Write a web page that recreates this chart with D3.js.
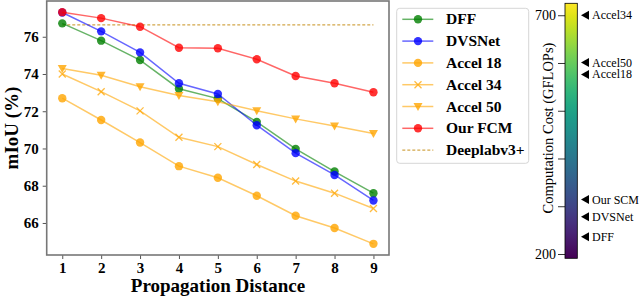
<!DOCTYPE html>
<html>
<head>
<meta charset="utf-8">
<script src="https://cdn.jsdelivr.net/npm/d3@7"></script>
<style>
  body { margin: 0; background: #fff; }
  svg { display: block; font-family: "Liberation Serif", "Times New Roman", serif; }
</style>
</head>
<body>
<svg></svg>
<script>
var WIDTH = 640;
var HEIGHT = 299;

// data
var distances = [1, 2, 3, 4, 5, 6, 7, 8, 9];
var dff     = [76.72, 75.79, 74.75, 73.21, 72.68, 71.43, 69.98, 68.76, 67.60];
var dvsnet  = [77.30, 76.29, 75.16, 73.50, 72.93, 71.25, 69.75, 68.58, 67.21];
var accel18 = [72.70, 71.53, 70.32, 69.05, 68.43, 67.46, 66.39, 65.73, 64.88];
var accel34 = [74.00, 73.05, 72.02, 70.60, 70.10, 69.14, 68.25, 67.60, 66.78];
var accel50 = [74.30, 73.93, 73.32, 72.84, 72.51, 72.03, 71.59, 71.21, 70.80];
var ourFcm  = [77.32, 77.00, 76.54, 75.41, 75.38, 74.79, 73.89, 73.50, 73.02];
var deeplab = 76.64;
var yTicks = [66, 68, 70, 72, 74, 76];

var costNames = ['Accel34', 'Accel50', 'Accel18', 'Our SCM', 'DVSNet', 'DFF'];
var costValues = [700, 601, 576, 314, 278, 236];
var costTicks = [200, 300, 400, 500, 600, 700];

var series = [
  {name: 'DFF', values: dff, color: '#008000', marker: 'circle'},
  {name: 'DVSNet', values: dvsnet, color: '#0000ff', marker: 'circle'},
  {name: 'Accel 18', values: accel18, color: '#ffa500', marker: 'circle'},
  {name: 'Accel 34', values: accel34, color: '#ffa500', marker: 'x'},
  {name: 'Accel 50', values: accel50, color: '#ffa500', marker: 'tri'},
  {name: 'Our FCM', values: ourFcm, color: '#ff0000', marker: 'circle'}
];

var svg = d3.select('svg')
  .attr('width', WIDTH)
  .attr('height', HEIGHT);

var xScale = d3.scaleLinear().domain([0.6, 9.4]).range([46.7, 389]);
var yScale = d3.scaleLinear().domain([64.28, 77.92]).range([255, 1]);

// axes
var gx = svg.append('g')
  .attr('transform', 'translate(0,255)')
  .call(d3.axisBottom(xScale).tickValues(distances).tickSize(4).tickPadding(3));
var gy = svg.append('g')
  .attr('transform', 'translate(46.7,0)')
  .call(d3.axisLeft(yScale).tickValues(yTicks).tickSize(4).tickPadding(4));
[gx, gy].forEach(function(g){
  g.select('.domain').remove();
  g.selectAll('line').attr('stroke', '#555').attr('stroke-width', 1);
  g.selectAll('text').attr('fill', '#000').style('font-size', '15px').style('font-weight', 'bold')
    .style('font-family', '"Liberation Serif", serif');
});

// frame
svg.append('rect')
  .attr('x', 46.7).attr('y', 1)
  .attr('width', 389 - 46.7).attr('height', 254)
  .attr('fill', 'none').attr('stroke', '#777').attr('stroke-width', 1.6);

// deeplab baseline
svg.append('line')
  .attr('x1', xScale(1)).attr('x2', xScale(9))
  .attr('y1', yScale(deeplab)).attr('y2', yScale(deeplab))
  .attr('stroke', '#d2a64a').attr('stroke-width', 1.2)
  .attr('stroke-dasharray', '3,2');

var line = d3.line()
  .x(function(d, i){ return xScale(distances[i]); })
  .y(function(d){ return yScale(d); });

var drawMarker = function(g, type, x, y, color){
  if(type === 'circle'){
    g.append('circle').attr('cx', x).attr('cy', y).attr('r', 4.2)
      .attr('fill', color).attr('fill-opacity', 0.8);
  } else if(type === 'x'){
    g.append('path')
      .attr('d', 'M' + (x-3.5) + ',' + (y-3.5) + 'L' + (x+3.5) + ',' + (y+3.5) +
                 'M' + (x-3.5) + ',' + (y+3.5) + 'L' + (x+3.5) + ',' + (y-3.5))
      .attr('stroke', color).attr('stroke-opacity', 0.75).attr('stroke-width', 1.3);
  } else {
    g.append('path')
      .attr('d', 'M' + (x-4.5) + ',' + (y-3.5) + 'L' + (x+4.5) + ',' + (y-3.5) + 'L' + x + ',' + (y+4.5) + 'Z')
      .attr('fill', color).attr('fill-opacity', 0.8);
  }
};

series.forEach(function(s){
  var g = svg.append('g');
  g.append('path').datum(s.values)
    .attr('d', line)
    .attr('fill', 'none')
    .attr('stroke', s.color)
    .attr('stroke-opacity', 0.6)
    .attr('stroke-width', 1.5);
  s.values.forEach(function(v, i){
    drawMarker(g, s.marker, xScale(distances[i]), yScale(v), s.color);
  });
});

// axis titles
svg.append('text')
  .attr('x', 218).attr('y', 292)
  .attr('text-anchor', 'middle')
  .style('font-size', '19px').style('font-weight', 'bold')
  .text('Propagation Distance');
svg.append('text')
  .attr('transform', 'translate(18,128) rotate(-90)')
  .attr('text-anchor', 'middle')
  .style('font-size', '19px').style('font-weight', 'bold')
  .text('mIoU (%)');

// legend
var legend = svg.append('g');
legend.append('rect')
  .attr('x', 396.7).attr('y', 8.3)
  .attr('width', 132).attr('height', 155)
  .attr('rx', 3)
  .attr('fill', '#fff').attr('stroke', '#d6d6d6').attr('stroke-width', 1);
var legendItems = series.concat([{name: 'Deeplabv3+', color: '#d2a64a', marker: 'dash'}]);
legendItems.forEach(function(s, i){
  var y = 19.3 + i * 21.8;
  var g = legend.append('g');
  if(s.marker === 'dash'){
    g.append('line').attr('x1', 402.3).attr('x2', 433.3).attr('y1', y).attr('y2', y)
      .attr('stroke', s.color).attr('stroke-width', 1.2).attr('stroke-dasharray', '3,2');
  } else {
    g.append('line').attr('x1', 402.3).attr('x2', 433.3).attr('y1', y).attr('y2', y)
      .attr('stroke', s.color).attr('stroke-opacity', 0.6).attr('stroke-width', 1.5);
    drawMarker(g, s.marker, 418, y, s.color);
  }
  g.append('text')
    .attr('x', 446).attr('y', y + 5)
    .style('font-size', '15.5px').style('font-weight', 'bold')
    .text(s.name);
});

// colorbar
var cScale = d3.scaleLinear().domain([191, 725]).range([258.3, 3.3]);
var grad = svg.append('defs').append('linearGradient')
  .attr('id', 'viridis')
  .attr('x1', '0').attr('y1', '1').attr('x2', '0').attr('y2', '0');
d3.range(0, 1.001, 0.05).forEach(function(t){
  grad.append('stop').attr('offset', t).attr('stop-color', d3.interpolateViridis(t));
});
svg.append('rect')
  .attr('x', 565).attr('y', 3.3)
  .attr('width', 12.3).attr('height', 255)
  .attr('fill', 'url(#viridis)')
  .attr('stroke', '#000').attr('stroke-width', 0.8);

var gc = svg.append('g')
  .attr('transform', 'translate(565,0)')
  .call(d3.axisLeft(cScale).tickValues(costTicks).tickSize(7).tickPadding(2)
    .tickFormat(function(d){ return (d === 200 || d === 700) ? d : ''; }));
gc.select('.domain').remove();
gc.selectAll('line').attr('stroke', '#000').attr('stroke-width', 0.8);
gc.selectAll('text').attr('fill', '#000').style('font-size', '14px')
  .style('font-family', '"Liberation Serif", serif');

svg.append('text')
  .attr('transform', 'translate(553,128) rotate(-90)')
  .attr('text-anchor', 'middle')
  .style('font-size', '14.5px')
  .text('Computation Cost (GFLOPs)');

costNames.forEach(function(name, i){
  var y = cScale(costValues[i]);
  svg.append('path')
    .attr('d', 'M581,' + y + 'L589,' + (y - 4.5) + 'L589,' + (y + 4.5) + 'Z')
    .attr('fill', '#000');
  svg.append('text')
    .attr('x', 592).attr('y', y + 4)
    .style('font-size', '12px')
    .text(name);
});
</script>
</body>
</html>
